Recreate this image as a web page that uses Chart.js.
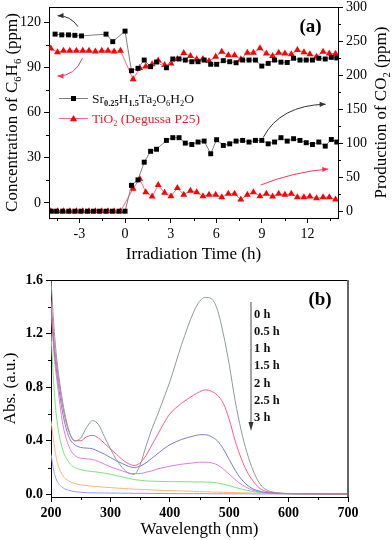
<!DOCTYPE html>
<html>
<head>
<meta charset="utf-8">
<script src="https://cdn.jsdelivr.net/npm/chart.js@4.4.0/dist/chart.umd.min.js"></script>
<style>
  html, body { margin: 0; padding: 0; background: #fff; }
  #wrap { position: relative; width: 392px; height: 540px; }
  #wrap canvas { position: absolute; left: 0; }
</style>
</head>
<body>
<div id="wrap">
  <canvas id="chartA" width="392" height="270" style="top:0"></canvas>
  <canvas id="chartB" width="392" height="270" style="top:270px"></canvas>
</div>
<script>
// ---- panel (a): benzene removal / CO2 production vs irradiation time ----
const timeSrC6H6 = [-4.6, -4.16, -3.72, -3.3, -2.86, -1.25, -0.81, 0,
  0.42, 0.85, 1.26, 1.68, 2.07, 2.72, 3.14, 3.55, 3.96,
  4.39, 4.8, 5.2, 5.63, 6.02, 6.46, 6.88, 7.3, 7.73, 8.15, 8.57, 8.99, 9.41, 9.83,
  10.25, 10.66, 11.08, 11.5, 11.91, 12.32, 12.74, 13.16, 13.56, 13.92];
const srC6H6 = [112, 111.5, 111.5, 111.2, 110.8, 112, 107, 114,
  87.7, 89.3, 94.8, 90.4, 93.5, 89.7, 95.5, 95.5, 94.8,
  93.7, 93.7, 94.8, 92, 92, 94.4, 93.7, 93, 94.8, 94.8, 94.8, 90.8, 92.6, 94.8,
  93.4, 93.2, 96, 94.8, 94.8, 94.8, 96, 95.5, 96.6, 96.2];

const timeSrCO2 = [-4.85, -4.5, -4.1, -3.7, -3.3, -2.9, -2.47, -2.08, -1.68, -1.25, -0.83, -0.4, 0,
  0.42, 0.85, 1.26, 1.68, 2.07, 2.72, 3.14, 3.55, 3.96,
  4.39, 4.8, 5.2, 5.63, 6.02, 6.46, 6.88, 7.3, 7.73, 8.15, 8.57, 8.99, 9.41, 9.83,
  10.25, 10.66, 11.08, 11.5, 11.91, 12.32, 12.74, 13.16, 13.56, 13.92];
const srCO2 = [0, 0, 0, 0, 0, 0, 0, 0, 0, 0, 0, 0, 0,
  38, 46, 72, 88, 91, 104, 108, 108, 100,
  98, 101.6, 103, 84.4, 105, 96.6, 99, 103, 104, 101.6, 104, 104, 99, 101.6,
  108, 103, 106.5, 104, 100.6, 98, 101.6, 95.6, 105.4, 101.6];

const timeTiO2 = [-4.88, -4.44, -4.05, -3.63, -3.2, -2.78, -2.37, -1.95, -1.53, -1.12, -0.72, -0.3,
  0.53, 0.96, 1.36, 1.78, 2.18, 2.6, 3.02, 3.44, 3.86, 4.3,
  4.71, 5.12, 5.52, 5.96, 6.36, 6.79, 7.2, 7.61, 8.04, 8.44, 8.87, 9.29, 9.7, 10.1,
  10.51, 10.93, 11.33, 11.76, 12.15, 12.59, 13.02, 13.43, 13.84];
const tiC6H6 = [102.5, 100, 101, 101, 101, 101, 101, 100.5, 101, 101, 100.5, 101,
  82, 89.5, 90.5, 92, 94.5, 91.5, 92.5, 95.5, 99.5, 97.5,
  95.3, 95.5, 94.2, 97, 100.3, 98, 98, 95.3, 99.7, 99.7, 102.6, 99.2, 97.5, 99.7,
  99.2, 98.6, 101.5, 100, 98.6, 97, 100.3, 99.2, 99];
const tiCO2 = [0, 0, 0, 0, 0, 0, 0, 0, 0, 0, 0, 0,
  33, 47.6, 28, 21.6, 38.5, 27, 22, 34, 24.3, 30,
  28, 22, 24, 24, 20.6, 25.6, 25.6, 17.2, 24, 28, 22, 25.6, 21.6, 25.6,
  24, 25.6, 20.6, 20.6, 21.6, 19, 20.6, 20.6, 17.2];

const xTicksA = [-3, 0, 3, 6, 9, 12];
const leftTicksA = [0, 30, 60, 90, 120];
const rightTicksA = [0, 50, 100, 150, 200, 250, 300];

// ---- panel (b): UV-vis spectra ----
const wavelength = [200, 205, 210, 220, 230, 240, 250, 260, 270, 280,
  290, 300, 310, 320, 330, 340, 350, 360, 370, 380,
  390, 400, 420, 440, 450, 460, 470, 480, 490, 500,
  510, 520, 530, 540, 550, 560, 580, 600, 650, 700];
const abs0h = [1.60, 1.25, 1.00, 0.68, 0.48, 0.40, 0.42, 0.50, 0.55, 0.52,
  0.43, 0.34, 0.26, 0.20, 0.16, 0.15, 0.22, 0.36, 0.49, 0.60,
  0.72, 0.84, 1.12, 1.36, 1.44, 1.47, 1.46, 1.38, 1.20, 0.97,
  0.70, 0.48, 0.31, 0.18, 0.09, 0.04, 0.012, 0.006, 0.003, 0.002];
const abs05h = [1.45, 1.15, 0.95, 0.65, 0.47, 0.40, 0.40, 0.43, 0.44, 0.42,
  0.38, 0.34, 0.30, 0.26, 0.23, 0.215, 0.235, 0.29, 0.37, 0.45,
  0.53, 0.60, 0.68, 0.74, 0.765, 0.78, 0.77, 0.74, 0.68, 0.56,
  0.40, 0.27, 0.17, 0.10, 0.05, 0.025, 0.01, 0.006, 0.004, 0.003];
const abs1h = [1.42, 1.10, 0.90, 0.60, 0.43, 0.37, 0.35, 0.345, 0.34, 0.32,
  0.30, 0.275, 0.25, 0.23, 0.21, 0.20, 0.21, 0.235, 0.27, 0.305,
  0.34, 0.37, 0.41, 0.435, 0.445, 0.445, 0.43, 0.40, 0.34, 0.26,
  0.18, 0.115, 0.07, 0.04, 0.025, 0.015, 0.008, 0.005, 0.003, 0.002];
const abs15h = [1.40, 1.05, 0.85, 0.52, 0.36, 0.29, 0.27, 0.265, 0.26, 0.245,
  0.225, 0.205, 0.19, 0.175, 0.16, 0.155, 0.155, 0.165, 0.175, 0.19,
  0.20, 0.21, 0.225, 0.235, 0.24, 0.24, 0.235, 0.22, 0.19, 0.15,
  0.11, 0.075, 0.05, 0.03, 0.02, 0.012, 0.006, 0.004, 0.003, 0.002];
const abs2h = [1.20, 0.80, 0.55, 0.33, 0.24, 0.20, 0.185, 0.175, 0.17, 0.165,
  0.158, 0.15, 0.14, 0.13, 0.12, 0.11, 0.105, 0.10, 0.098, 0.097,
  0.096, 0.095, 0.094, 0.093, 0.093, 0.092, 0.09, 0.085, 0.075, 0.065,
  0.052, 0.04, 0.03, 0.02, 0.014, 0.01, 0.006, 0.004, 0.003, 0.002];
const abs25h = [0.55, 0.38, 0.25, 0.14, 0.10, 0.08, 0.07, 0.065, 0.06, 0.057,
  0.053, 0.05, 0.047, 0.044, 0.041, 0.039, 0.037, 0.035, 0.033, 0.031,
  0.029, 0.028, 0.025, 0.022, 0.02, 0.019, 0.018, 0.016, 0.015, 0.013,
  0.012, 0.011, 0.01, 0.009, 0.008, 0.007, 0.006, 0.005, 0.004, 0.003];
const abs3h = [0.30, 0.17, 0.10, 0.05, 0.03, 0.02, 0.015, 0.012, 0.011, 0.01,
  0.01, 0.009, 0.009, 0.008, 0.008, 0.007, 0.007, 0.007, 0.006, 0.006,
  0.006, 0.005, 0.005, 0.005, 0.005, 0.005, 0.004, 0.004, 0.004, 0.004,
  0.004, 0.004, 0.004, 0.003, 0.003, 0.003, 0.003, 0.003, 0.003, 0.003];
const timeLabels = ['0 h', '0.5 h', '1 h', '1.5 h', '2 h', '2.5 h', '3 h'];
const xTicksB = [200, 300, 400, 500, 600, 700];
const yTicksB = [0, 0.4, 0.8, 1.2, 1.6];

const SERIF = '"Liberation Serif", "Times New Roman", serif';
Chart.defaults.font.family = SERIF;

const pts = (xs, ys) => xs.map((x, i) => ({ x, y: ys[i] }));

// text with subscripts; parts = [text, isSub, isBold]
function richText(ctx, parts, x, y, size, center) {
  const fontOf = p => `${p[2] ? 'bold ' : ''}${p[1] ? size * 0.62 : size}px ${SERIF}`;
  const widths = parts.map(p => { ctx.font = fontOf(p); return ctx.measureText(p[0]).width; });
  let cx = center ? x - widths.reduce((a, b) => a + b, 0) / 2 : x;
  ctx.textAlign = 'left';
  ctx.textBaseline = 'alphabetic';
  parts.forEach((p, i) => {
    ctx.font = fontOf(p);
    ctx.fillText(p[0], cx, y + (p[1] ? size * 0.25 : 0));
    cx += widths[i];
  });
}

function rotatedText(ctx, parts, cx, cy, size) {
  ctx.save();
  ctx.translate(cx, cy);
  ctx.rotate(-Math.PI / 2);
  richText(ctx, parts, 0, size * 0.33, size, true);
  ctx.restore();
}

function minorTicks(ctx, scale, majors, side, area) {
  const step = majors[1] - majors[0];
  const vals = [majors[0] - step / 2];
  majors.forEach(v => vals.push(v + step / 2));
  ctx.beginPath();
  vals.filter(v => v > scale.min && v < scale.max).forEach(v => {
    const p = Math.round(scale.getPixelForValue(v)) + 0.5;
    if (side === 'bottom') { ctx.moveTo(p, area.bottom); ctx.lineTo(p, area.bottom + 3); }
    if (side === 'left') { ctx.moveTo(area.left, p); ctx.lineTo(area.left - 3, p); }
    if (side === 'right') { ctx.moveTo(area.right, p); ctx.lineTo(area.right + 3, p); }
  });
  ctx.stroke();
}

function curvedArrow(ctx, p0, c, p1, color) {
  ctx.strokeStyle = color;
  ctx.fillStyle = color;
  ctx.lineWidth = 1;
  ctx.beginPath();
  ctx.moveTo(p0[0], p0[1]);
  ctx.quadraticCurveTo(c[0], c[1], p1[0], p1[1]);
  ctx.stroke();
  const ang = Math.atan2(p1[1] - c[1], p1[0] - c[0]);
  const L = 6, W = 2.6;
  ctx.beginPath();
  ctx.moveTo(p1[0], p1[1]);
  ctx.lineTo(p1[0] - L * Math.cos(ang) + W * Math.sin(ang), p1[1] - L * Math.sin(ang) - W * Math.cos(ang));
  ctx.lineTo(p1[0] - L * Math.cos(ang) - W * Math.sin(ang), p1[1] - L * Math.sin(ang) + W * Math.cos(ang));
  ctx.closePath();
  ctx.fill();
}

const panelADecor = {
  id: 'panelADecor',
  afterDraw(chart) {
    const { ctx, chartArea: a, scales } = chart;
    const sx = scales.x, sy = scales.yL;
    ctx.save();
    ctx.strokeStyle = '#000';
    ctx.lineWidth = 1;
    ctx.beginPath();
    ctx.moveTo(a.left, a.top + 0.5);
    ctx.lineTo(a.right, a.top + 0.5);
    ctx.stroke();
    minorTicks(ctx, sx, xTicksA, 'bottom', a);
    minorTicks(ctx, sy, leftTicksA, 'left', a);
    minorTicks(ctx, scales.yR, rightTicksA, 'right', a);

    // trend arrows (data coordinates on x / left axis)
    const P = (h, v) => [sx.getPixelForValue(h), sy.getPixelForValue(v)];
    curvedArrow(ctx, P(-3.09, 116.9), P(-3.59, 124.4), P(-4.44, 124.2), '#333');
    curvedArrow(ctx, P(-2.8, 96), P(-3.29, 84.1), P(-4.44, 84.2), '#ff3355');
    curvedArrow(ctx, P(9.08, 43.4), P(10.2, 64.8), P(13.19, 65.5), '#333');
    curvedArrow(ctx, P(8.92, 11.9), P(11.08, 20.6), P(13.36, 22.5), '#ff3355');

    // legend
    const lx0 = 59, lx1 = 88, mx = 73.5;
    ctx.lineWidth = 1;
    ctx.strokeStyle = '#808080';
    ctx.beginPath(); ctx.moveTo(lx0, 98.5); ctx.lineTo(lx1, 98.5); ctx.stroke();
    ctx.fillStyle = '#000';
    ctx.fillRect(mx - 2.5, 96, 5, 5);
    ctx.strokeStyle = '#ff6a8a';
    ctx.beginPath(); ctx.moveTo(lx0, 118.5); ctx.lineTo(lx1, 118.5); ctx.stroke();
    ctx.fillStyle = '#ff0000';
    ctx.beginPath(); ctx.moveTo(mx, 115); ctx.lineTo(mx + 3.6, 121.2); ctx.lineTo(mx - 3.6, 121.2); ctx.closePath(); ctx.fill();

    ctx.fillStyle = '#111';
    richText(ctx, [['Sr'], ['0.25', 1, 1], ['H'], ['1.5', 1, 1], ['Ta'], ['2', 1], ['O'], ['6', 1], ['H'], ['2', 1], ['O']],
      92, 103, 13.5, false);
    ctx.fillStyle = '#f01a2a';
    richText(ctx, [['TiO'], ['2', 1], [' (Degussa P25)']], 92, 123, 13.5, false);

    // axis titles
    ctx.fillStyle = '#000';
    rotatedText(ctx, [['Concentration of C'], ['6', 1], ['H'], ['6', 1], [' (ppm)']], 11, (a.top + a.bottom) / 2, 17);
    rotatedText(ctx, [['Production of CO'], ['2', 1], [' (ppm)']], 380, (a.top + a.bottom) / 2, 17);
    richText(ctx, [['Irradiation Time (h)']], (a.left + a.right) / 2, 259, 17, true);
    richText(ctx, [['(a)', 0, 1]], 310.5, 32, 19, true);
    ctx.restore();
  }
};

const panelBDecor = {
  id: 'panelBDecor',
  afterDraw(chart) {
    const { ctx, chartArea: a, scales } = chart;
    ctx.save();
    ctx.strokeStyle = '#000';
    ctx.lineWidth = 1;
    ctx.beginPath();
    ctx.moveTo(a.left, a.top + 0.5);
    ctx.lineTo(a.right, a.top + 0.5);
    ctx.stroke();
    ctx.strokeStyle = '#666';
    ctx.lineWidth = 2;
    ctx.beginPath();
    ctx.moveTo(a.right, a.top);
    ctx.lineTo(a.right, a.bottom);
    ctx.stroke();
    ctx.strokeStyle = '#000';
    ctx.lineWidth = 1;
    minorTicks(ctx, scales.x, xTicksB, 'bottom', a);
    minorTicks(ctx, scales.y, yTicksB, 'left', a);

    // time legend with downward arrow
    ctx.strokeStyle = '#888';
    ctx.lineWidth = 1.5;
    ctx.beginPath(); ctx.moveTo(251, 32); ctx.lineTo(251, 154); ctx.stroke();
    ctx.fillStyle = '#333';
    ctx.beginPath(); ctx.moveTo(251, 161); ctx.lineTo(248.5, 152); ctx.lineTo(253.5, 152); ctx.closePath(); ctx.fill();
    ctx.fillStyle = '#111';
    timeLabels.forEach((t, i) => richText(ctx, [[t, 0, 1]], 254, 47.5 + i * 17.3, 12.5, false));

    ctx.fillStyle = '#000';
    rotatedText(ctx, [['Abs. (a.u.)']], 9, (a.top + a.bottom) / 2, 17);
    richText(ctx, [['Wavelength (nm)']], (a.left + a.right) / 2, 264, 17, true);
    richText(ctx, [['(b)', 0, 1]], 320, 34.5, 19, true);
    ctx.restore();
  }
};

const axisBase = (fontWeight) => ({
  type: 'linear',
  ticks: { font: { family: SERIF, size: 14, weight: fontWeight }, color: '#000', autoSkip: false, maxRotation: 0 },
  grid: { drawOnChartArea: false, drawTicks: true, tickLength: 5, color: '#000', lineWidth: 1 },
  border: { display: true, color: '#000', width: 1 },
});

const fixTicks = list => s => { s.ticks = list.map(v => ({ value: v })); };

new Chart(document.getElementById('chartA'), {
  type: 'scatter',
  data: {
    datasets: [
      { data: pts(timeSrC6H6, srC6H6), yAxisID: 'yL', showLine: true, borderColor: '#808080', borderWidth: 1,
        pointStyle: 'rect', pointRadius: 3.5, pointBackgroundColor: '#000', pointBorderColor: '#000', pointBorderWidth: 0 },
      { data: pts(timeSrCO2, srCO2), yAxisID: 'yR', showLine: true, borderColor: '#808080', borderWidth: 1,
        pointStyle: 'rect', pointRadius: 3.5, pointBackgroundColor: '#000', pointBorderColor: '#000', pointBorderWidth: 0 },
      { data: pts(timeTiO2, tiC6H6), yAxisID: 'yL', showLine: true, borderColor: '#ff6a8a', borderWidth: 1,
        pointStyle: 'triangle', pointRadius: 4, pointBackgroundColor: '#ff0000', pointBorderColor: '#ff0000', pointBorderWidth: 0 },
      { data: pts(timeTiO2, tiCO2), yAxisID: 'yR', showLine: true, borderColor: '#ff6a8a', borderWidth: 1,
        pointStyle: 'triangle', pointRadius: 4, pointBackgroundColor: '#ff0000', pointBorderColor: '#ff0000', pointBorderWidth: 0 },
    ],
  },
  options: {
    responsive: false, animation: false, devicePixelRatio: 1,
    layout: { padding: { top: 7, left: 0, right: 0, bottom: 0 } },
    plugins: { legend: { display: false }, tooltip: { enabled: false } },
    scales: {
      x: Object.assign(axisBase('normal'), {
        position: 'bottom', min: -5, max: 14,
        afterBuildTicks: fixTicks(xTicksA),
        afterFit: s => { s.height = 52; s.paddingLeft = 0; s.paddingRight = 0; },
      }),
      yL: Object.assign(axisBase('normal'), {
        position: 'left', min: -10, max: 130,
        afterBuildTicks: fixTicks(leftTicksA),
        afterFit: s => { s.width = 49; s.paddingTop = 0; s.paddingBottom = 0; },
      }),
      yR: Object.assign(axisBase('normal'), {
        position: 'right', min: -10, max: 300,
        afterBuildTicks: fixTicks(rightTicksA),
        afterFit: s => { s.width = 54; s.paddingTop = 0; s.paddingBottom = 0; },
      }),
    },
  },
  plugins: [panelADecor],
});

const specColors = ['#8c9a9a', '#ff5a85', '#7a7ad8', '#e27ae2', '#7ae27a', '#ffb27a', '#9a9af0'];
const spectra = [abs0h, abs05h, abs1h, abs15h, abs2h, abs25h, abs3h];

const axisB = axisBase('bold');
const axisBY = axisBase('bold');
axisBY.ticks.callback = v => Number(v).toFixed(1);

new Chart(document.getElementById('chartB'), {
  type: 'scatter',
  data: {
    datasets: spectra.map((s, i) => ({
      label: timeLabels[i],
      data: pts(wavelength, s),
      showLine: true,
      borderColor: specColors[i],
      borderWidth: 1,
      pointRadius: 0,
      cubicInterpolationMode: 'monotone',
    })),
  },
  options: {
    responsive: false, animation: false, devicePixelRatio: 1,
    layout: { padding: { top: 10, left: 0, right: 44, bottom: 0 } },
    plugins: { legend: { display: false }, tooltip: { enabled: false } },
    scales: {
      x: Object.assign(axisB, {
        position: 'bottom', min: 200, max: 700,
        afterBuildTicks: fixTicks(xTicksB),
        afterFit: s => { s.height = 43; s.paddingLeft = 0; s.paddingRight = 0; },
      }),
      y: Object.assign(axisBY, {
        position: 'left', min: -0.02, max: 1.6,
        afterBuildTicks: fixTicks(yTicksB),
        afterFit: s => { s.width = 51; s.paddingTop = 0; s.paddingBottom = 0; },
      }),
    },
  },
  plugins: [panelBDecor],
});
</script>
</body>
</html>
